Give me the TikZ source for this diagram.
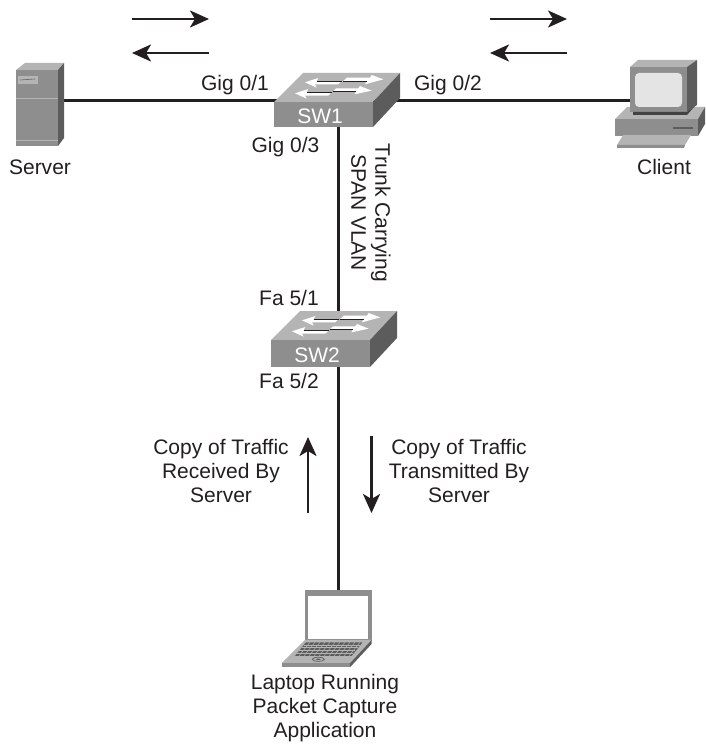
\documentclass[tikz,border=0pt]{standalone}
\usepackage{fontspec}
\setmainfont{Liberation Sans}
\usetikzlibrary{arrows.meta}
\definecolor{inkc}{HTML}{231F20}
\definecolor{toplt}{HTML}{B4B4B4}
\definecolor{frontc}{HTML}{8E8E8E}
\definecolor{sidec}{HTML}{5C5C5C}
\definecolor{palec}{HTML}{E4E4E4}
\tikzset{
  lbl/.style={inner sep=0pt,text=inkc,align=center,font=\fontsize{21}{24}\selectfont},
  swlbl/.style={inner sep=0pt,text=white,font=\fontsize{21}{24}\selectfont},
  link/.style={draw=inkc,line width=3pt},
  flow/.style={draw=inkc,line width=2.5pt,-{Stealth[length=19pt,width=17pt,inset=5pt]}},
  anchorpt/.style={inner sep=0pt,minimum size=0pt},
  swarrow/.style={fill=white,draw=none},
  swshadow/.style={draw=inkc,line width=.7pt},
  pics/switchicon/.style={code={
    \fill[toplt] (0,0) -- (29,-29) -- (126,-29) -- (99,0) -- cycle;
    \fill[frontc] (0,0) rectangle (99,#1);
    \fill[sidec] (99,0) -- (126,-29) -- (126,#1-29) -- (99,#1) -- cycle;
    \begin{scope}[x=.3333pt,y=-.3333pt,shift={(-72,-156)}]
      \fill[swarrow] (165,97) -- (205,84) -- (200,93) -- (275,93) -- (265,103) -- (195,103) -- (200,113) -- cycle;
      \draw[swshadow] (200,93) -- (275,93);
      \fill[swarrow] (400,88) -- (365,75) -- (360,83) -- (290,83) -- (280,93) -- (350,93) -- (345,103) -- cycle;
      \draw[swshadow] (280,93) -- (350,93);
      \fill[swarrow] (135,130) -- (175,117) -- (170,127) -- (245,127) -- (235,137) -- (165,137) -- (170,146) -- cycle;
      \draw[swshadow] (170,127) -- (245,127);
      \fill[swarrow] (365,122) -- (330,108) -- (325,115) -- (258,115) -- (248,125) -- (318,125) -- (313,133) -- cycle;
      \draw[swshadow] (248,125) -- (318,125);
    \end{scope}
  }}
}
\begin{document}
\begin{tikzpicture}[x=1pt,y=-1pt]
\useasboundingbox (0,0) rectangle (705,746);
\fill[white] (0,0) rectangle (705,746);

% anchor points of the devices
\node[anchorpt] (server) at (40,101) {};
\node[anchorpt] (sw1) at (338.5,101) {};
\node[anchorpt] (client) at (660,101) {};
\node[anchorpt] (sw2) at (338.5,340) {};
\node[anchorpt] (laptop) at (338.5,620) {};

% connectors
\draw[link] (server) -- (sw1);
\draw[link] (sw1) -- (client);
\draw[link] (sw1) -- (sw2);
\draw[link] (sw2) -- (laptop);

% server
\fill[toplt] (16,70) -- (25,63) -- (64,63) -- (58,70) -- cycle;
\fill[frontc] (16,70) rectangle (58,146);
\fill[sidec] (58,70) -- (64,63) -- (64,138) -- (58,146) -- cycle;
\draw[toplt,line width=.8pt] (16,98.5) -- (58,98.5);
\draw[toplt,line width=.8pt] (16,140) -- (58,140);
\fill[toplt] (18,76) rectangle (38,84);
\draw[frontc!70!black,line width=.6pt] (20,80) -- (35,79);

% client
\fill[toplt] (627,107) -- (705,107) -- (698,119) -- (615,119) -- cycle;
\fill[frontc] (615,119) rectangle (698,136);
\fill[sidec] (698,119) -- (705,107) -- (705,124) -- (698,136) -- cycle;
\draw[sidec,line width=1.5pt] (673,128) -- (693,128);
\fill[toplt] (623,135) -- (691,135) -- (685,145) -- (617,145) -- cycle;
\fill[frontc] (617,145) -- (685,145) -- (684,148) -- (617,148) -- cycle;
\fill[toplt] (630,67) -- (638,60) -- (697,60) -- (687,67) -- cycle;
\fill[frontc] (630,67) rectangle (687,112);
\fill[sidec] (687,67) -- (697,60) -- (697,105) -- (687,112) -- cycle;
\fill[inkc!85] (633,112) -- (687,112) -- (694,107) -- (687,115) -- (633,115) -- cycle;
\fill[palec,rounded corners=4pt] (635,73) rectangle (682,107);

% switches
\pic at (274,102) {switchicon={25}};
\pic at (271,340) {switchicon={27}};

% laptop
\begin{scope}[x=.3333pt,y=-.3333pt,shift={(810,1740)}]
  \fill[frontc] (105,30) rectangle (305,182);
  \fill[white] (113,47) rectangle (295,178);
  \fill[toplt] (105,180) -- (305,180) -- (240,250) -- (35,250) -- cycle;
  \fill[frontc] (35,250) -- (240,250) -- (240,262) -- (35,262) -- cycle;
  \fill[sidec] (240,250) -- (305,180) -- (305,192) -- (240,262) -- cycle;
  \fill[sidec] (108,187) -- (278,187) -- (245,228) -- (75,228) -- cycle;
  \foreach \yy/\xa/\xb in {195/102/270,203/95/263,212/88/256,220/81/250}
    \draw[toplt,line width=.6pt] (\xa,\yy) -- (\xb,\yy);
  \foreach \i in {0,...,10}
    \draw[toplt,line width=.5pt] ({120+\i*15},187) -- ({87+\i*15},228);
  \draw[sidec,line width=.7pt] (145,238) ellipse (18 and 6);
  \fill[sidec] (145,238) ellipse (7 and 2);
\end{scope}

% traffic arrows
\coordinate (a1s) at (132,19); \coordinate (a1e) at (209,19);
\coordinate (a2s) at (209,53); \coordinate (a2e) at (132,53);
\coordinate (a3s) at (490,19); \coordinate (a3e) at (567,19);
\coordinate (a4s) at (567,53); \coordinate (a4e) at (490,53);
\coordinate (a5s) at (308,513); \coordinate (a5e) at (308,437);
\coordinate (a6s) at (371.5,436); \coordinate (a6e) at (371.5,513);
\draw[flow] (a1s) -- (a1e);
\draw[flow] (a2s) -- (a2e);
\draw[flow] (a3s) -- (a3e);
\draw[flow] (a4s) -- (a4e);
\draw[flow] (a5s) -- (a5e);
\draw[flow] (a6s) -- (a6e);

% labels
\node[lbl] (lserver) at (40,167) {Server};
\node[lbl] (lclient) at (664,167) {Client};
\node[lbl] (g1) at (235,85) {Gig 0/1};
\node[lbl] (g2) at (448,85) {Gig 0/2};
\node[lbl] (g3) at (285.5,147) {Gig 0/3};
\node[lbl] (f1) at (289,298) {Fa 5/1};
\node[lbl] (f2) at (289,381) {Fa 5/2};
\node[swlbl] (ls1) at (320,116.5) {SW1};
\node[swlbl] (ls2) at (317,355) {SW2};
\node[lbl,rotate=-90] (trunk) at (371,213) {Trunk Carrying\\SPAN VLAN};
\node[lbl] (rx) at (221,471) {Copy of Traffic\\Received By\\Server};
\node[lbl] (tx) at (459,471) {Copy of Traffic\\Transmitted By\\Server};
\node[lbl] (lap) at (325,708) {Laptop Running\\Packet Capture\\Application};
\end{tikzpicture}
\end{document}
